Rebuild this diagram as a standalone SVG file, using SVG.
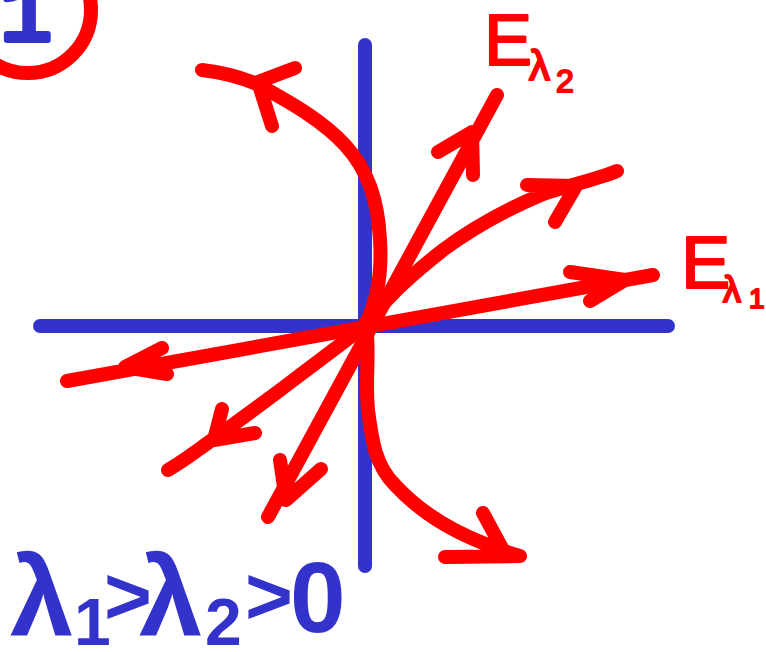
<svg xmlns="http://www.w3.org/2000/svg" width="766" height="652" viewBox="0 0 766 652">
<style>
.ax{stroke:#3333cc;stroke-width:14;stroke-linecap:round;fill:none}
.tr{stroke:#ff0000;stroke-width:14;stroke-linecap:round;stroke-linejoin:round;fill:none}
.bt{fill:#3333cc;font-family:"Liberation Sans","DejaVu Sans",sans-serif;font-weight:bold}
.rt{fill:#ff0000;stroke:#ff0000;stroke-width:2;stroke-linejoin:round;font-family:"Liberation Sans","DejaVu Sans",sans-serif}
.mono{fill:#3333cc;stroke:#3333cc;stroke-width:6;stroke-linejoin:round;font-family:"Liberation Mono",monospace}
</style>
<rect width="766" height="652" fill="#ffffff"/>
<g id="badge">
<circle cx="28" cy="10" r="63" fill="none" stroke="#ff0000" stroke-width="14"/>
<text class="mono" x="26" y="40" font-size="86" text-anchor="middle">1</text>
</g>
<g id="axes">
<line class="ax" x1="365" y1="45" x2="365" y2="566"/>
<line class="ax" x1="40" y1="326" x2="668" y2="326"/>
</g>
<g id="trajectories">
<path id="e1" class="tr" d="M67 381 L653 275 M570 272 L625 280 L590 301 M162 348 L125 367 L167 374"/>
<path id="e2" class="tr" d="M497 95 L268 517 M438 152 L472 132 L473 175 M280 460 L286 500 L321 469"/>
<path id="c_ur" class="tr" d="M368 322 C385 300 405 280 443 250 C470 230 500 212 543 194 C570 185 595 180 617 171 M527 185 L576 186 L555 222"/>
<path id="c_ll" class="tr" d="M362 328 C340 345 320 360 300 375 C270 398 240 420 212 440 C195 452 182 462 168 470 M222 409 L214 440 L255 433"/>
<path id="c_ul" class="tr" d="M365 325 C378 300 382 270 380 240 C378 200 368 170 345 145 C320 118 285 100 257 84 C240 77 220 72 202 70 M295 68 L258 82 L272 126"/>
<path id="c_lr" class="tr" d="M366 325 C370 350 365 380 368 410 C372 440 375 465 395 485 C420 512 450 530 483 543 C495 548 508 553 520 556 M483 513 L503 550 M445 557 L520 556"/>
</g>
<g id="labels">
<text class="rt" x="484" y="65" font-size="72">E<tspan x="529" y="80" font-size="42">λ</tspan><tspan x="556" y="92" font-size="32">2</tspan></text>
<text class="rt" x="681" y="288" font-size="74">E<tspan x="723" y="302" font-size="36">λ</tspan><tspan x="749" y="308" font-size="28">1</tspan></text>
<text class="bt" x="10" y="636" font-size="114">λ<tspan x="74" y="645" font-size="66">1</tspan><tspan x="104" y="624" font-size="82">&gt;</tspan><tspan x="139" y="636" font-size="114">λ</tspan><tspan x="205" y="645" font-size="66">2</tspan><tspan x="245" y="624" font-size="82">&gt;</tspan><tspan x="290" y="632" font-size="100">0</tspan></text>
</g>
</svg>
